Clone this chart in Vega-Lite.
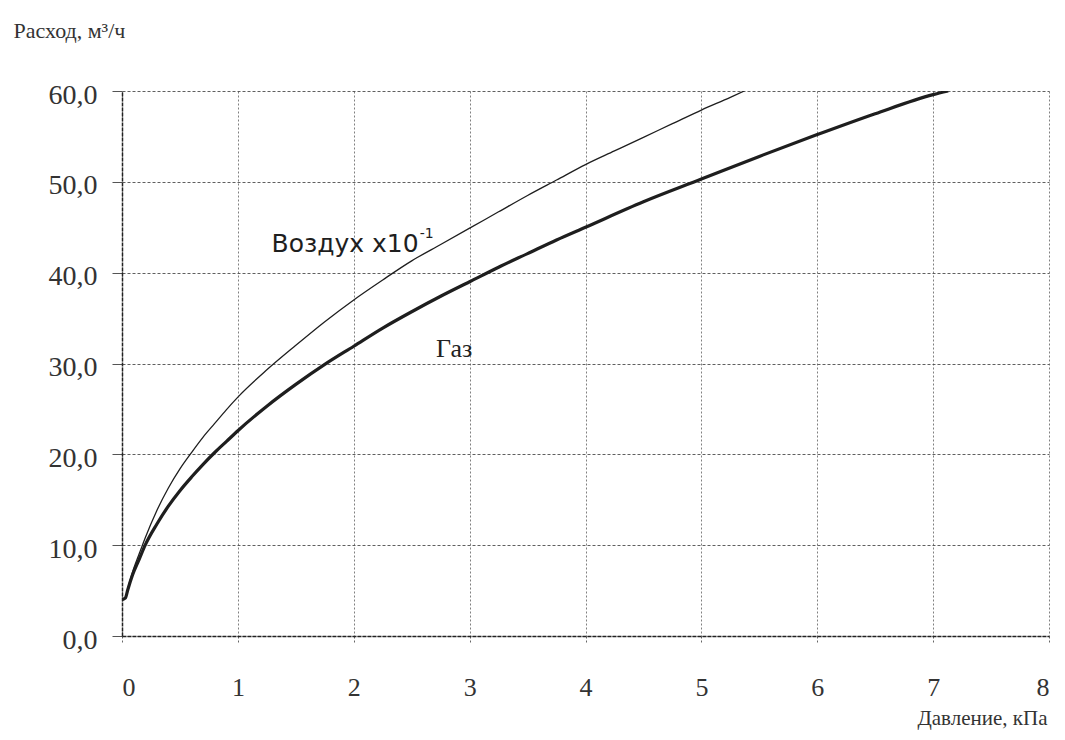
{
  "$schema": "https://vega.github.io/schema/vega-lite/v6.json",
  "width": 927,
  "height": 545,
  "autosize": {"type": "none"},
  "padding": {"left": 122, "top": 91, "right": 16, "bottom": 104},
  "background": "white",
  "config": {"view": {"stroke": null}},
  "datasets": {
    "curves": [
      {"p": 0.0, "q": 4.0, "s": "Газ"},
      {"p": 0.03, "q": 4.2, "s": "Газ"},
      {"p": 0.05, "q": 5.1, "s": "Газ"},
      {"p": 0.09, "q": 6.7, "s": "Газ"},
      {"p": 0.15, "q": 8.5, "s": "Газ"},
      {"p": 0.2, "q": 10.0, "s": "Газ"},
      {"p": 0.3, "q": 12.3, "s": "Газ"},
      {"p": 0.4, "q": 14.3, "s": "Газ"},
      {"p": 0.5, "q": 16.0, "s": "Газ"},
      {"p": 0.6, "q": 17.5, "s": "Газ"},
      {"p": 0.7, "q": 18.9, "s": "Газ"},
      {"p": 0.8, "q": 20.2, "s": "Газ"},
      {"p": 0.9, "q": 21.4, "s": "Газ"},
      {"p": 1.0, "q": 22.6, "s": "Газ"},
      {"p": 1.25, "q": 25.3, "s": "Газ"},
      {"p": 1.5, "q": 27.7, "s": "Газ"},
      {"p": 1.75, "q": 29.9, "s": "Газ"},
      {"p": 2.0, "q": 31.9, "s": "Газ"},
      {"p": 2.25, "q": 33.9, "s": "Газ"},
      {"p": 2.5, "q": 35.7, "s": "Газ"},
      {"p": 2.75, "q": 37.4, "s": "Газ"},
      {"p": 3.0, "q": 39.0, "s": "Газ"},
      {"p": 3.25, "q": 40.6, "s": "Газ"},
      {"p": 3.5, "q": 42.1, "s": "Газ"},
      {"p": 3.75, "q": 43.6, "s": "Газ"},
      {"p": 4.0, "q": 45.0, "s": "Газ"},
      {"p": 4.5, "q": 47.8, "s": "Газ"},
      {"p": 5.0, "q": 50.3, "s": "Газ"},
      {"p": 5.5, "q": 52.8, "s": "Газ"},
      {"p": 6.0, "q": 55.2, "s": "Газ"},
      {"p": 6.5, "q": 57.5, "s": "Газ"},
      {"p": 7.0, "q": 59.6, "s": "Газ"},
      {"p": 7.13, "q": 60.0, "s": "Газ"},
      {"p": 0.0, "q": 4.0, "s": "Воздух"},
      {"p": 0.03, "q": 4.2, "s": "Воздух"},
      {"p": 0.05, "q": 5.2, "s": "Воздух"},
      {"p": 0.09, "q": 7.0, "s": "Воздух"},
      {"p": 0.15, "q": 9.1, "s": "Воздух"},
      {"p": 0.2, "q": 10.8, "s": "Воздух"},
      {"p": 0.3, "q": 13.8, "s": "Воздух"},
      {"p": 0.4, "q": 16.3, "s": "Воздух"},
      {"p": 0.5, "q": 18.4, "s": "Воздух"},
      {"p": 0.6, "q": 20.2, "s": "Воздух"},
      {"p": 0.7, "q": 21.9, "s": "Воздух"},
      {"p": 0.8, "q": 23.4, "s": "Воздух"},
      {"p": 0.9, "q": 24.9, "s": "Воздух"},
      {"p": 1.0, "q": 26.3, "s": "Воздух"},
      {"p": 1.25, "q": 29.3, "s": "Воздух"},
      {"p": 1.5, "q": 32.0, "s": "Воздух"},
      {"p": 1.75, "q": 34.6, "s": "Воздух"},
      {"p": 2.0, "q": 37.0, "s": "Воздух"},
      {"p": 2.25, "q": 39.2, "s": "Воздух"},
      {"p": 2.5, "q": 41.3, "s": "Воздух"},
      {"p": 2.75, "q": 43.1, "s": "Воздух"},
      {"p": 3.0, "q": 44.9, "s": "Воздух"},
      {"p": 3.25, "q": 46.7, "s": "Воздух"},
      {"p": 3.5, "q": 48.5, "s": "Воздух"},
      {"p": 3.75, "q": 50.2, "s": "Воздух"},
      {"p": 4.0, "q": 51.9, "s": "Воздух"},
      {"p": 4.25, "q": 53.4, "s": "Воздух"},
      {"p": 4.5, "q": 54.9, "s": "Воздух"},
      {"p": 4.75, "q": 56.4, "s": "Воздух"},
      {"p": 5.0, "q": 57.9, "s": "Воздух"},
      {"p": 5.25, "q": 59.3, "s": "Воздух"},
      {"p": 5.37, "q": 60.0, "s": "Воздух"}
    ],
    "airLabel": [{"p": 1.29, "q": 42.3, "t": "Воздух x10"}],
    "airSup": [{"p": 2.57, "q": 43.8, "t": "-1"}],
    "gasLabel": [{"p": 2.71, "q": 30.7, "t": "Газ"}]
  },
  "layer": [
    {
      "data": {"name": "curves"},
      "mark": {"type": "line", "interpolate": "monotone", "color": "#1e1e1e", "clip": true},
      "encoding": {
        "x": {
          "field": "p",
          "type": "quantitative",
          "scale": {"domain": [0, 8], "nice": false},
          "axis": {
            "values": [0, 1, 2, 3, 4, 5, 6, 7, 8],
            "format": "d",
            "grid": true,
            "gridColor": "#555",
            "gridDash": [2, 2],
            "gridOpacity": 0.75,
            "domain": true,
            "domainColor": "#222",
            "domainWidth": 1.5,
            "domainDash": [4, 1],
            "ticks": true,
            "tickSize": 8,
            "tickColor": "#666",
            "tickDash": [2, 2],
            "labelFont": "Liberation Serif",
            "labelFontSize": 26,
            "labelColor": "#333",
            "labelPadding": 30,
            "labelBaseline": "top",
            "title": "Давление, кПа",
            "titleFont": "Liberation Serif",
            "titleFontSize": 21,
            "titleFontWeight": "normal",
            "titleColor": "#333",
            "titleAlign": "right",
            "titleBaseline": "alphabetic",
            "titleX": 925,
            "titleY": 88
          }
        },
        "y": {
          "field": "q",
          "type": "quantitative",
          "scale": {"domain": [0, 60], "nice": false},
          "axis": {
            "values": [0, 10, 20, 30, 40, 50, 60],
            "labelExpr": "replace(format(datum.value, '.1f'), '.', ',')",
            "grid": true,
            "gridColor": "#444",
            "gridDash": [3, 2],
            "gridOpacity": 0.85,
            "domain": true,
            "domainColor": "#222",
            "domainWidth": 1.5,
            "domainDash": [4, 1],
            "ticks": true,
            "tickSize": 10,
            "tickColor": "#555",
            "labelFont": "Liberation Serif",
            "labelFontSize": 28,
            "labelColor": "#333",
            "labelPadding": 15,
            "labelOffset": 4,
            "title": "Расход, м³/ч",
            "titleFont": "Liberation Serif",
            "titleFontSize": 22,
            "titleFontWeight": "normal",
            "titleColor": "#333",
            "titleAngle": 0,
            "titleAlign": "left",
            "titleBaseline": "alphabetic",
            "titleX": -109,
            "titleY": -54
          }
        },
        "detail": {"field": "s"},
        "strokeWidth": {
          "field": "s",
          "type": "nominal",
          "scale": {"domain": ["Газ", "Воздух"], "range": [3.2, 1.3]},
          "legend": null
        }
      }
    },
    {
      "data": {"name": "airLabel"},
      "mark": {"type": "text", "align": "left", "baseline": "alphabetic", "font": "DejaVu Sans", "fontSize": 25, "color": "#1e1e1e"},
      "encoding": {
        "x": {"field": "p", "type": "quantitative"},
        "y": {"field": "q", "type": "quantitative"},
        "text": {"field": "t"}
      }
    },
    {
      "data": {"name": "airSup"},
      "mark": {"type": "text", "align": "left", "baseline": "alphabetic", "font": "DejaVu Sans", "fontSize": 14, "color": "#1e1e1e"},
      "encoding": {
        "x": {"field": "p", "type": "quantitative"},
        "y": {"field": "q", "type": "quantitative"},
        "text": {"field": "t"}
      }
    },
    {
      "data": {"name": "gasLabel"},
      "mark": {"type": "text", "align": "left", "baseline": "alphabetic", "font": "Liberation Serif", "fontSize": 26, "color": "#222"},
      "encoding": {
        "x": {"field": "p", "type": "quantitative"},
        "y": {"field": "q", "type": "quantitative"},
        "text": {"field": "t"}
      }
    }
  ]
}
